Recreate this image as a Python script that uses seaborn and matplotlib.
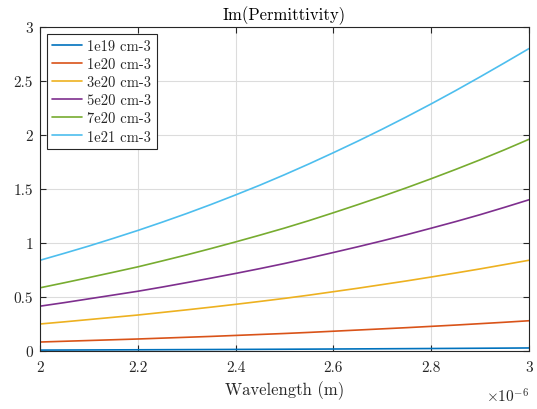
import numpy as np
import pandas as pd
import matplotlib
matplotlib.use("Agg")
import matplotlib.pyplot as plt
from matplotlib.ticker import FuncFormatter
import seaborn as sns

wavelength_um = [2.0, 2.05, 2.1, 2.15, 2.2, 2.25, 2.3, 2.35, 2.4, 2.45, 2.5,
                 2.55, 2.6, 2.65, 2.7, 2.75, 2.8, 2.85, 2.9, 2.95, 3.0]
labels = ["1e19 cm-3", "1e20 cm-3", "3e20 cm-3", "5e20 cm-3", "7e20 cm-3", "1e21 cm-3"]
im_1e19 = [0.0083, 0.0090, 0.0097, 0.0104, 0.0111, 0.0119, 0.0127, 0.0135, 0.0144, 0.0153, 0.0162,
           0.0172, 0.0183, 0.0194, 0.0205, 0.0216, 0.0228, 0.0240, 0.0253, 0.0266, 0.0280]
im_1e20 = [0.083, 0.090, 0.097, 0.104, 0.111, 0.119, 0.127, 0.135, 0.144, 0.153, 0.162,
           0.172, 0.183, 0.194, 0.205, 0.216, 0.228, 0.240, 0.253, 0.266, 0.280]
im_3e20 = [0.250, 0.270, 0.291, 0.312, 0.333, 0.357, 0.381, 0.406, 0.432, 0.459, 0.487,
           0.517, 0.549, 0.581, 0.615, 0.649, 0.685, 0.722, 0.760, 0.800, 0.840]
im_5e20 = [0.415, 0.448, 0.483, 0.518, 0.553, 0.592, 0.633, 0.675, 0.718, 0.763, 0.810,
           0.860, 0.912, 0.965, 1.020, 1.077, 1.137, 1.198, 1.262, 1.330, 1.400]
im_7e20 = [0.585, 0.632, 0.680, 0.729, 0.779, 0.834, 0.890, 0.949, 1.010, 1.073, 1.138,
           1.207, 1.280, 1.355, 1.432, 1.512, 1.595, 1.681, 1.770, 1.863, 1.960]
im_1e21 = [0.840, 0.905, 0.972, 1.043, 1.116, 1.193, 1.273, 1.357, 1.445, 1.536, 1.632,
           1.732, 1.836, 1.943, 2.054, 2.169, 2.288, 2.411, 2.538, 2.668, 2.800]
colors = ["#0072BD", "#D95319", "#EDB120", "#7E2F8E", "#77AC30", "#4DBEEE"]

series = [im_1e19, im_1e20, im_3e20, im_5e20, im_7e20, im_1e21]
frames = []
for lab, vals in zip(labels, series):
    frames.append(pd.DataFrame({
        "Wavelength": np.array(wavelength_um) * 1e-6,
        "Im": vals,
        "Concentration": lab,
    }))
df = pd.concat(frames, ignore_index=True)

sns.set_style("white")
plt.rcParams["font.family"] = "serif"
plt.rcParams["font.serif"] = ["cmr10", "DejaVu Serif"]
plt.rcParams["mathtext.fontset"] = "cm"
plt.rcParams["axes.formatter.use_mathtext"] = True

fig = plt.figure(figsize=(5.37, 4.10), dpi=100)
ax = fig.add_axes([0.0745, 0.1415, 0.9105, 0.7902])

sns.lineplot(data=df, x="Wavelength", y="Im", hue="Concentration",
             hue_order=labels, palette=colors, linewidth=1.2, ax=ax)

ax.set_xlim(2e-6, 3e-6)
ax.set_ylim(0, 3)
ax.set_xticks(np.array([2.0, 2.2, 2.4, 2.6, 2.8, 3.0]) * 1e-6)
ax.xaxis.set_major_formatter(FuncFormatter(lambda v, p: f"{v * 1e6:g}"))
ax.set_yticks([0, 0.5, 1, 1.5, 2, 2.5, 3])
ax.set_yticklabels(["0", "0.5", "1", "1.5", "2", "2.5", "3"])
ax.grid(True, color="#dcdcdc", linewidth=0.8)
ax.set_axisbelow(True)
for s in ax.spines.values():
    s.set_color("#262626")
    s.set_linewidth(0.8)
ax.tick_params(direction="in", length=4, width=0.8, color="#262626",
               labelsize=11, labelcolor="#262626", top=True, right=True,
               bottom=True, left=True)
ax.tick_params(axis="x", pad=7)
ax.tick_params(axis="y", pad=5)
ax.text(1.0, -0.155, r"$\times10^{-6}$", transform=ax.transAxes,
        ha="right", va="baseline", fontsize=11, color="#262626")

ax.set_xlabel("Wavelength (m)", fontsize=12, color="#262626", labelpad=4)
ax.set_ylabel("")
ax.set_title("Im(Permittivity)", fontsize=12, color="black", pad=6)

leg = ax.legend(loc="upper left", fontsize=10.5, frameon=True, fancybox=False,
                edgecolor="#262626", handlelength=2.0, borderpad=0.35,
                labelspacing=0.3, handletextpad=0.4, borderaxespad=0.5)
leg.get_frame().set_linewidth(0.8)
leg.get_frame().set_alpha(1)

fig.savefig("out.png", dpi=100)
